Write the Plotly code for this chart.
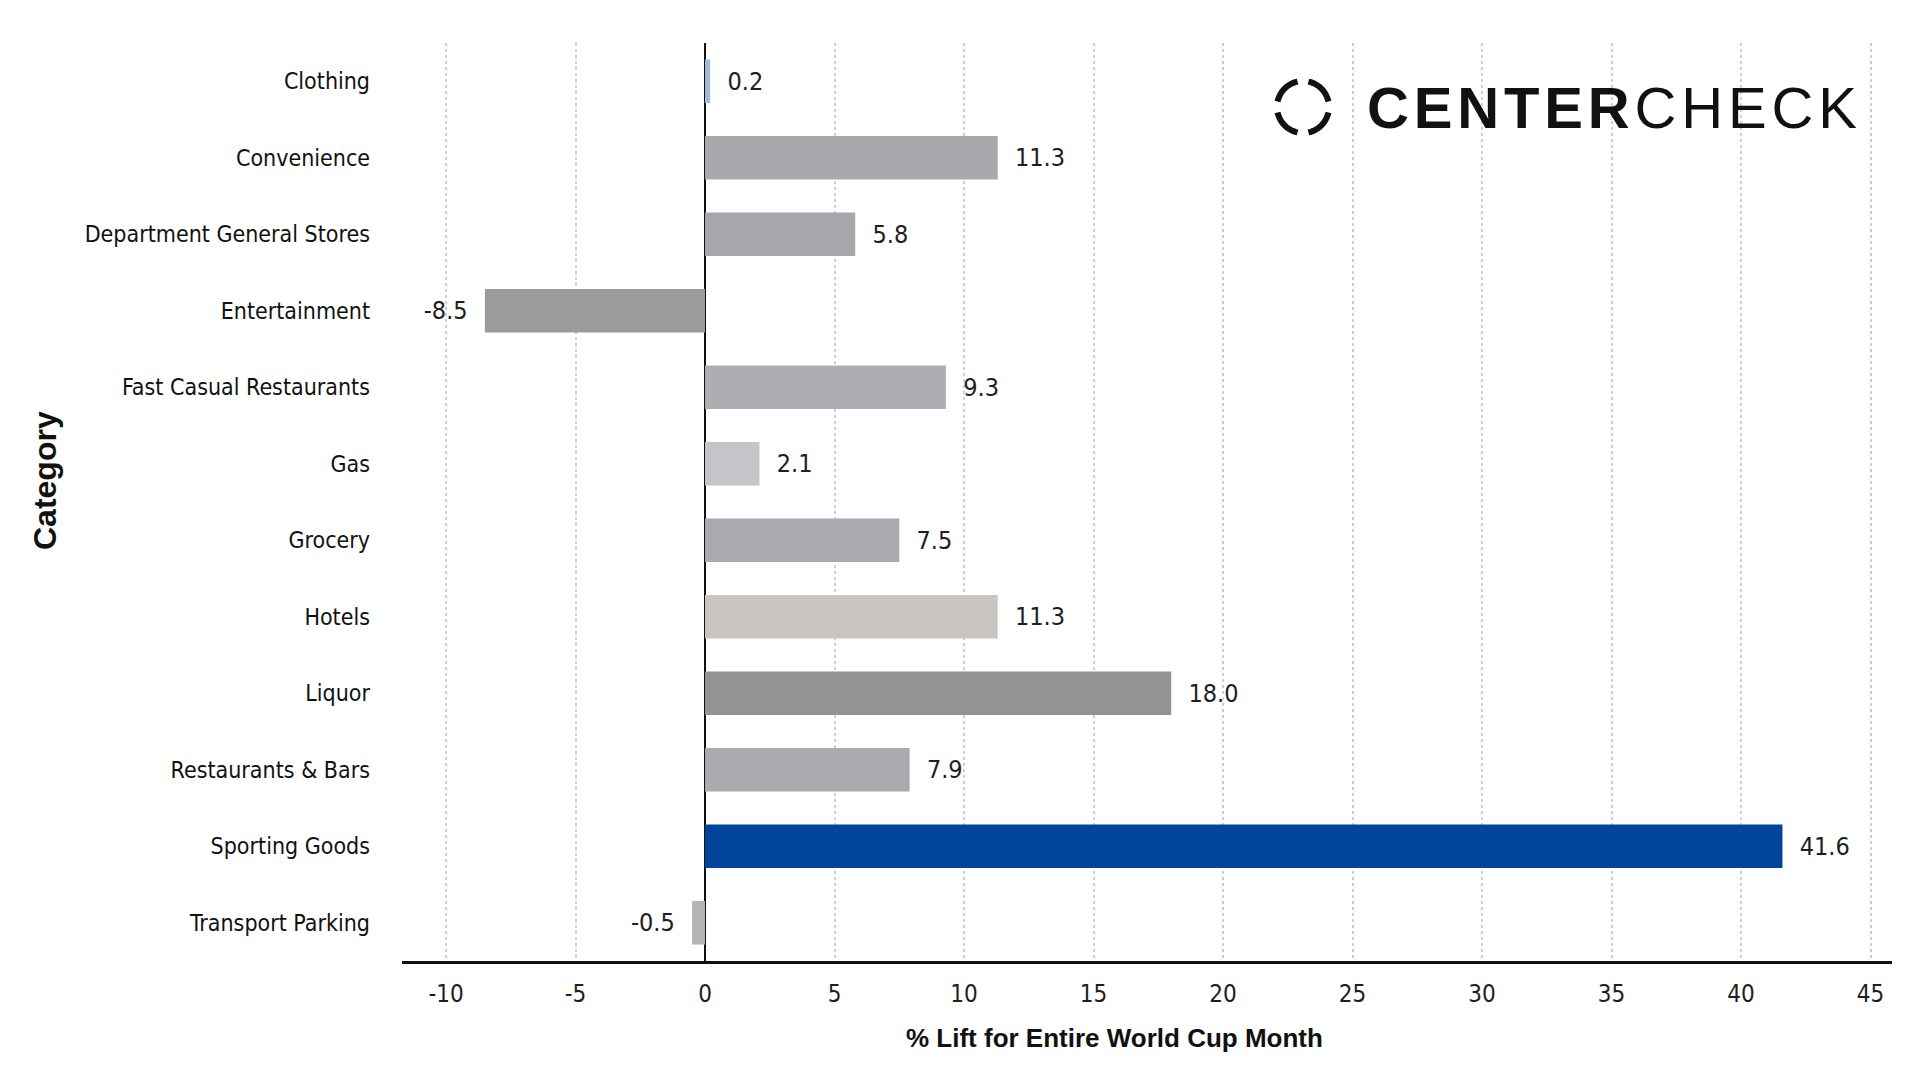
import math
import plotly.graph_objects as go

categories = ["Clothing", "Convenience", "Department General Stores", "Entertainment",
              "Fast Casual Restaurants", "Gas", "Grocery", "Hotels", "Liquor",
              "Restaurants & Bars", "Sporting Goods", "Transport Parking"]
lift = [0.2, 11.3, 5.8, -8.5, 9.3, 2.1, 7.5, 11.3, 18.0, 7.9, 41.6, -0.5]
bar_colors = ["#a4bad4", "#a8a9ad", "#a6a7ab", "#9d9a9a", "#adaeb1", "#c3c5c8",
              "#a9aaae", "#c9c5c1", "#939393", "#aaabae", "#00449c", "#b5b5b7"]
x_ticks = [-10, -5, 0, 5, 10, 15, 20, 25, 30, 35, 40, 45]

labels = [("  " + f"{v:.1f}") if v >= 0 else (f"{v:.1f}" + "  ") for v in lift]

cond = "DejaVu Sans Condensed, Liberation Sans, sans-serif"

fig = go.Figure()
fig.add_trace(go.Bar(
    y=categories, x=lift, orientation="h",
    marker=dict(color=bar_colors, line=dict(width=0)),
    text=labels, textposition="outside", cliponaxis=False,
    textfont=dict(family=cond, size=25, color="#1e1e1e"),
    hoverinfo="skip",
))

L, R, T, B = 402, 28, 43, 119
W, H = 1920, 1080
pw, ph = W - L - R, H - T - B

def px2paper(x, y):
    return (x - L) / pw, 1 - (y - T) / ph

ax_title_xy = px2paper(1114, 1038)
cat_title_xy = px2paper(45, 481)
logo_xy = px2paper(1365, 107)

fig.update_layout(
    width=W, height=H,
    margin=dict(l=L, r=R, t=T, b=B),
    paper_bgcolor="white", plot_bgcolor="white",
    bargap=0.43, showlegend=False,
    xaxis=dict(
        range=[-11.7, 45.83], tickvals=x_ticks, ticktext=[str(t) for t in x_ticks],
        showgrid=True, gridcolor="#cfcfcf", griddash="dot", gridwidth=1.5,
        zeroline=True, zerolinecolor="#111", zerolinewidth=2,
        showline=True, linecolor="#111", linewidth=3,
        ticks="", ticklabelstandoff=9,
        tickfont=dict(family=cond, size=24, color="#1e1e1e"),
    ),
    yaxis=dict(
        autorange="reversed", showgrid=False, zeroline=False, showline=False,
        ticks="", ticklabelstandoff=31,
        tickfont=dict(family=cond, size=23, color="#111"),
    ),
    annotations=[
        dict(text="<b>% Lift for Entire World Cup Month</b>", x=ax_title_xy[0], y=ax_title_xy[1],
             xref="paper", yref="paper", xanchor="center", yanchor="middle", showarrow=False,
             font=dict(family="Liberation Sans, Arial, sans-serif", size=26, color="#111")),
        dict(text="<b>Category</b>", x=cat_title_xy[0], y=cat_title_xy[1], textangle=-90,
             xref="paper", yref="paper", xanchor="center", yanchor="middle", showarrow=False,
             font=dict(family="Liberation Sans, Arial, sans-serif", size=32, color="#111")),
        dict(text="<b>C\u200aE\u200aN\u200aT\u200aE\u200aR</b>\u200aC\u200aH\u200aE\u200aC\u200aK",
             x=logo_xy[0], y=logo_xy[1], xref="paper", yref="paper",
             xanchor="left", yanchor="middle", showarrow=False,
             font=dict(family="Liberation Sans, Arial, sans-serif", size=58, color="#111")),
    ],
)

# logo ring: four arcs
cx, cy, r = 1303, 107, 26
for k in range(4):
    a0 = math.radians(k * 90 + 12)
    a1 = math.radians(k * 90 + 78)
    pts = []
    for i in range(13):
        t = a0 + (a1 - a0) * i / 12
        pts.append(px2paper(cx + r * math.cos(t), cy + r * math.sin(t)))
    path = "M " + " L ".join(f"{p[0]:.5f},{p[1]:.5f}" for p in pts)
    fig.add_shape(type="path", path=path, xref="paper", yref="paper",
                  line=dict(color="#111", width=6))

fig.write_html("out.html")
